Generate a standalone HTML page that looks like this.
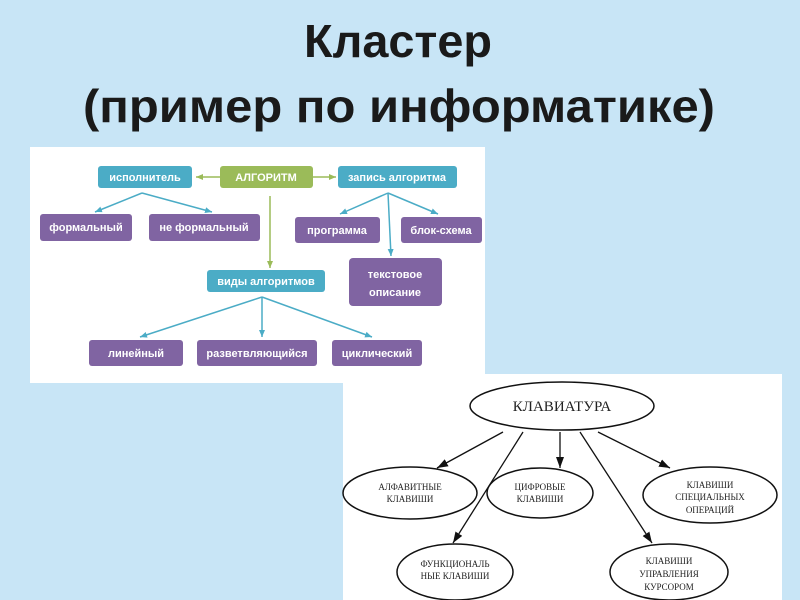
<!DOCTYPE html>
<html><head><meta charset="utf-8"><style>
html,body{margin:0;padding:0;background:#c8e5f6;}
svg{display:block}
</style></head><body>
<svg width="800" height="600" xmlns="http://www.w3.org/2000/svg" font-family="Liberation Sans, sans-serif">
<defs>
<marker id="ta" markerWidth="8" markerHeight="8" refX="7" refY="4" orient="auto" markerUnits="userSpaceOnUse"><path d="M0,1 L7,4 L0,7 z" fill="#4bacc6"/></marker>
<marker id="ga" markerWidth="8" markerHeight="8" refX="7" refY="4" orient="auto" markerUnits="userSpaceOnUse"><path d="M0,1 L7,4 L0,7 z" fill="#9bbb59"/></marker>
<marker id="ka" markerWidth="12" markerHeight="10" refX="11" refY="5" orient="auto" markerUnits="userSpaceOnUse"><path d="M0,1 L11,5 L0,9 z" fill="#111"/></marker>
</defs>
<rect width="800" height="600" fill="#c8e5f6"/>
<text x="398" y="57" font-size="46" font-weight="bold" fill="#1a1a1a" text-anchor="middle" textLength="188" lengthAdjust="spacingAndGlyphs">Кластер</text>
<text x="399" y="122" font-size="46" font-weight="bold" fill="#1a1a1a" text-anchor="middle" textLength="632" lengthAdjust="spacingAndGlyphs">(пример по информатике)</text>

<rect x="30" y="147" width="455" height="236" fill="#fff"/>
<g stroke="#4bacc6" stroke-width="1.5" fill="none">
<line x1="142" y1="193" x2="95" y2="212" marker-end="url(#ta)"/>
<line x1="142" y1="193" x2="212" y2="212" marker-end="url(#ta)"/>
<line x1="388" y1="193" x2="340" y2="214" marker-end="url(#ta)"/>
<line x1="388" y1="193" x2="438" y2="214" marker-end="url(#ta)"/>
<line x1="388" y1="193" x2="391" y2="256" marker-end="url(#ta)"/>
<line x1="262" y1="297" x2="140" y2="337" marker-end="url(#ta)"/>
<line x1="262" y1="297" x2="262" y2="337" marker-end="url(#ta)"/>
<line x1="262" y1="297" x2="372" y2="337" marker-end="url(#ta)"/>
</g>
<g stroke="#9bbb59" stroke-width="1.5">
<line x1="220" y1="177" x2="196" y2="177" marker-end="url(#ga)"/>
<line x1="313" y1="177" x2="336" y2="177" marker-end="url(#ga)"/>
<line x1="270" y1="196" x2="270" y2="268" marker-end="url(#ga)"/>
</g>
<g font-size="11" font-weight="bold" fill="#fff" text-anchor="middle">
<rect x="98" y="166" width="94" height="22" rx="3" fill="#4bacc6"/><text x="145" y="181">исполнитель</text>
<rect x="220" y="166" width="93" height="22" rx="3" fill="#9bbb59"/><text x="266" y="181">АЛГОРИТМ</text>
<rect x="338" y="166" width="119" height="22" rx="3" fill="#4bacc6"/><text x="397" y="181">запись алгоритма</text>
<rect x="40" y="214" width="92" height="27" rx="3" fill="#8064a2"/><text x="86" y="231">формальный</text>
<rect x="149" y="214" width="111" height="27" rx="3" fill="#8064a2"/><text x="204" y="231">не формальный</text>
<rect x="295" y="217" width="85" height="26" rx="3" fill="#8064a2"/><text x="337" y="234">программа</text>
<rect x="401" y="217" width="81" height="26" rx="3" fill="#8064a2"/><text x="441" y="234">блок-схема</text>
<rect x="349" y="258" width="93" height="48" rx="4" fill="#8064a2"/><text x="395" y="278">текстовое</text><text x="395" y="296">описание</text>
<rect x="207" y="270" width="118" height="22" rx="3" fill="#4bacc6"/><text x="266" y="285">виды алгоритмов</text>
<rect x="89" y="340" width="94" height="26" rx="3" fill="#8064a2"/><text x="136" y="357">линейный</text>
<rect x="197" y="340" width="120" height="26" rx="3" fill="#8064a2"/><text x="257" y="357">разветвляющийся</text>
<rect x="332" y="340" width="90" height="26" rx="3" fill="#8064a2"/><text x="377" y="357">циклический</text>
</g>

<rect x="343" y="374" width="439" height="226" fill="#fff"/>
<g stroke="#111" stroke-width="1.5" fill="#fff">
<ellipse cx="562" cy="406" rx="92" ry="24"/>
<ellipse cx="410" cy="493" rx="67" ry="26"/>
<ellipse cx="540" cy="493" rx="53" ry="25"/>
<ellipse cx="710" cy="495" rx="67" ry="28"/>
<ellipse cx="455" cy="572" rx="58" ry="28"/>
<ellipse cx="669" cy="572" rx="59" ry="28"/>
</g>
<g stroke="#111" stroke-width="1.3">
<line x1="503" y1="432" x2="437" y2="468" marker-end="url(#ka)"/>
<line x1="523" y1="432" x2="453" y2="543" marker-end="url(#ka)"/>
<line x1="560" y1="432" x2="560" y2="468" marker-end="url(#ka)"/>
<line x1="580" y1="432" x2="652" y2="543" marker-end="url(#ka)"/>
<line x1="598" y1="432" x2="670" y2="468" marker-end="url(#ka)"/>
</g>
<g font-family="Liberation Serif, serif" fill="#222" text-anchor="middle" font-size="9">
<text x="562" y="411" font-size="15">КЛАВИАТУРА</text>
<text x="410" y="490">АЛФАВИТНЫЕ</text><text x="410" y="502">КЛАВИШИ</text>
<text x="540" y="490">ЦИФРОВЫЕ</text><text x="540" y="502">КЛАВИШИ</text>
<text x="710" y="488">КЛАВИШИ</text><text x="710" y="500">СПЕЦИАЛЬНЫХ</text><text x="710" y="513">ОПЕРАЦИЙ</text>
<text x="455" y="567">ФУНКЦИОНАЛЬ</text><text x="455" y="579">НЫЕ КЛАВИШИ</text>
<text x="669" y="564">КЛАВИШИ</text><text x="669" y="577">УПРАВЛЕНИЯ</text><text x="669" y="590">КУРСОРОМ</text>
</g>
</svg>
</body></html>
